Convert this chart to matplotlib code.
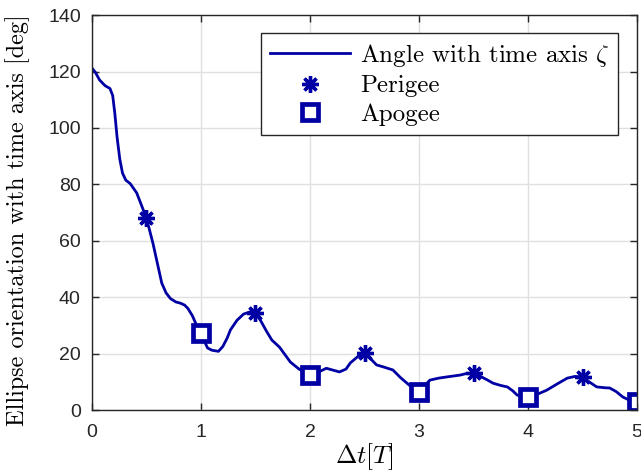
import matplotlib.pyplot as plt

# angle curve
t = [0.0, 0.03, 0.07, 0.12, 0.165, 0.19, 0.21, 0.23, 0.255, 0.28, 0.31, 0.35, 0.41, 0.46, 0.5,
     0.53, 0.56, 0.6, 0.64, 0.68, 0.72, 0.77, 0.81, 0.85, 0.88, 0.92, 0.96, 1.0,
     1.03, 1.06, 1.1, 1.16, 1.2, 1.24, 1.27, 1.33, 1.39, 1.45, 1.5,
     1.55, 1.6, 1.65, 1.72, 1.82, 1.9, 2.0,
     2.08, 2.15, 2.27, 2.33, 2.37, 2.44, 2.5, 2.56, 2.61, 2.68, 2.76, 2.83, 2.89, 2.95, 3.0,
     3.05, 3.1, 3.18, 3.25, 3.38, 3.44, 3.5,
     3.56, 3.62, 3.68, 3.75, 3.81, 3.86, 3.9, 3.95, 4.0,
     4.08, 4.17, 4.27, 4.36, 4.43, 4.5,
     4.56, 4.63, 4.7, 4.75, 4.81, 4.87, 4.93, 5.0]
zeta = [121.2, 119.8, 117.0, 115.0, 114.0, 111.5, 105.0, 96.8, 89.0, 84.0, 81.5, 80.3, 77.0, 72.0, 68.0,
        63.5, 59.0, 52.0, 45.0, 41.5, 39.5, 38.3, 37.9, 37.2, 36.0, 33.5, 30.0, 27.3,
        24.5, 22.0, 21.2, 20.8, 22.5, 25.5, 28.4, 31.8, 34.0, 34.8, 34.4,
        31.5, 28.0, 24.8, 22.3, 17.0, 14.5, 12.4,
        13.5, 14.8, 13.5, 14.5, 16.7, 19.0, 20.2, 18.0, 16.0, 15.2, 14.2, 11.5, 9.5, 7.5, 6.4,
        8.5, 10.6, 11.3, 11.7, 12.4, 13.0, 13.0,
        12.0, 10.8, 9.5, 8.7, 8.2, 6.8, 5.3, 4.8, 4.6,
        5.5, 7.0, 9.3, 11.3, 11.9, 11.7,
        10.0, 8.2, 7.9, 7.8, 6.5, 4.6, 3.5, 2.8]

t_peri = [0.5, 1.5, 2.5, 3.5, 4.5]
zeta_peri = [68.0, 34.4, 20.2, 13.0, 11.7]
t_apo = [1.0, 2.0, 3.0, 4.0, 5.0]
zeta_apo = [27.3, 12.4, 6.4, 4.6, 2.8]

blue = '#0000a4'
plt.rcParams['mathtext.fontset'] = 'cm'
plt.rcParams['axes.unicode_minus'] = False
serif = ['cmr10', 'DejaVu Serif']

fig = plt.figure(figsize=(6.41, 4.74), dpi=100)
ax = fig.add_axes([0.1435, 0.135, 0.8503, 0.833])

ax.plot(t, zeta, color=blue, lw=2, label=r'Angle with time axis $\zeta$')
ax.plot(t_peri, zeta_peri, ls='none', marker=(8, 2, 0), ms=12, mew=2.4,
        color=blue, label='Perigee')
ax.plot(t_apo, zeta_apo, ls='none', marker='s', ms=11, mew=3.4, mfc='white',
        mec=blue, label='Apogee')

ax.set_xlim(0, 5)
ax.set_ylim(0, 140)
ax.set_xticks(range(0, 6))
ax.set_yticks(range(0, 141, 20))
ax.grid(True, color='#e0e0e0', lw=1)
ax.set_axisbelow(True)
ax.tick_params(direction='in', top=True, right=True, length=5, width=1,
               labelsize=14, colors='#262626')
ax.tick_params(axis='x', pad=10)
ax.tick_params(axis='y', pad=8)
for lab in ax.get_xticklabels() + ax.get_yticklabels():
    lab.set_family(['Liberation Sans'])
for s in ax.spines.values():
    s.set_color('#262626')
    s.set_linewidth(1)

ax.set_xlabel(r'$\Delta t[T]$', fontsize=18.5, labelpad=0)
ax.set_ylabel('Ellipse orientation with time axis [deg]', fontsize=17.5,
              family=serif)
ax.yaxis.set_label_coords(-0.114, 0.482)

leg = ax.legend(loc='upper right', bbox_to_anchor=(0.966, 0.955),
                prop={'family': serif, 'size': 18}, fancybox=False,
                edgecolor='#262626', framealpha=1, borderaxespad=0,
                handlelength=3.2, handletextpad=0.4, labelspacing=0.25,
                borderpad=0.35)
leg.get_frame().set_linewidth(1)

fig.savefig('out.png', dpi=100)
